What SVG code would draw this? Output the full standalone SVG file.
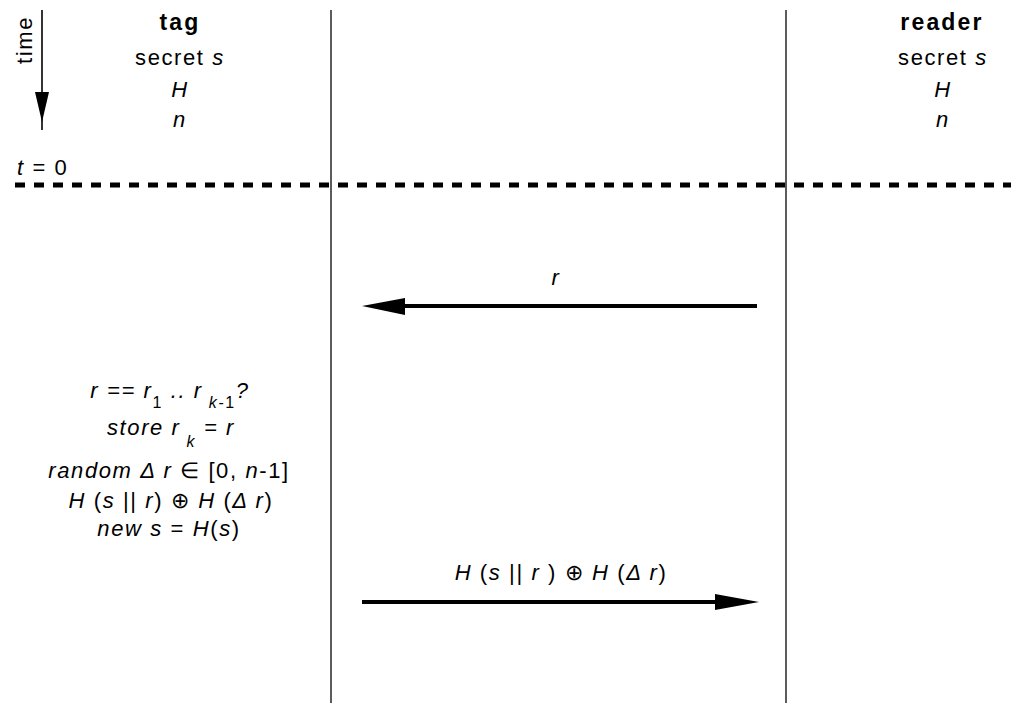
<svg xmlns="http://www.w3.org/2000/svg" width="1011" height="703" viewBox="0 0 1011 703">
<style>
text { font-family: "Liberation Sans", Arial, sans-serif; font-size: 22px; fill: #000; letter-spacing: 1.6px; }
.b { font-weight: bold; font-size: 23px; letter-spacing: 2.2px; }
.i { font-style: italic; }
.n { font-style: normal; }
.c { text-anchor: middle; }
.sub { font-size: 16px; }
.life { stroke: #333; stroke-width: 1.6; fill: none; }
.msg { stroke: #000; stroke-width: 4; fill: none; }
.head { fill: #000; stroke: none; }
</style>
<rect width="1011" height="703" fill="#fff"/>
<g id="time-axis">
  <line x1="42" y1="10" x2="42" y2="130" stroke="#000" stroke-width="1.6"/>
  <polygon class="head" points="35,92 49,92 42,122"/>
  <text transform="translate(32,64) rotate(-90)">time</text>
  <text x="17" y="175"><tspan class="i">t</tspan> = 0</text>
</g>
<g id="t0-line">
  <line x1="15" y1="185" x2="1011" y2="185" stroke="#000" stroke-width="5" stroke-dasharray="10 9"/>
</g>
<g id="tag">
  <line class="life" x1="331" y1="10" x2="331" y2="703"/>
  <text class="b c" x="180" y="30">tag</text>
  <text class="c" x="180" y="65">secret <tspan class="i">s</tspan></text>
  <text class="c i" x="180" y="97">H</text>
  <text class="c i" x="180" y="127">n</text>
</g>
<g id="reader">
  <line class="life" x1="786" y1="10" x2="786" y2="703"/>
  <text class="b c" x="942" y="30">reader</text>
  <text class="c" x="943" y="65">secret <tspan class="i">s</tspan></text>
  <text class="c i" x="943" y="97">H</text>
  <text class="c i" x="943" y="127">n</text>
</g>
<g id="tag-computation">
  <text class="c i" x="170" y="398">r == r<tspan class="sub n" dy="10">1</tspan><tspan dy="-10"> .. r</tspan><tspan class="sub" dy="10"> k</tspan><tspan class="sub n">-1</tspan><tspan dy="-10">?</tspan></text>
  <text class="c i" x="171" y="435">store r<tspan class="sub" dy="12"> k</tspan><tspan dy="-12"> = r</tspan></text>
  <text class="c" x="169" y="478"><tspan class="i">random Δ r</tspan> ∈ [0, <tspan class="i">n</tspan>-1]</text>
  <text class="c" x="171" y="508"><tspan class="i">H</tspan> (<tspan class="i">s</tspan> || <tspan class="i">r</tspan>) ⊕ <tspan class="i">H</tspan> (<tspan class="i">Δ r</tspan>)</text>
  <text class="c" x="169" y="536"><tspan class="i">new s</tspan> = <tspan class="i">H</tspan>(<tspan class="i">s</tspan>)</text>
</g>
<g id="connectors">
  <g id="msg-r">
    <line class="msg" x1="400" y1="306" x2="757" y2="306"/>
    <polygon class="head" points="362,306 405,298 405,315"/>
    <text class="c i" x="556" y="285">r</text>
  </g>
  <g id="msg-response">
    <line class="msg" x1="362" y1="602" x2="720" y2="602"/>
    <polygon class="head" points="715,594 715,610 759,602"/>
    <text class="c" x="561" y="580"><tspan class="i">H</tspan> (<tspan class="i">s</tspan> || <tspan class="i">r</tspan> )  ⊕ <tspan class="i">H</tspan> (<tspan class="i">Δ r</tspan>)</text>
  </g>
</g>
</svg>
